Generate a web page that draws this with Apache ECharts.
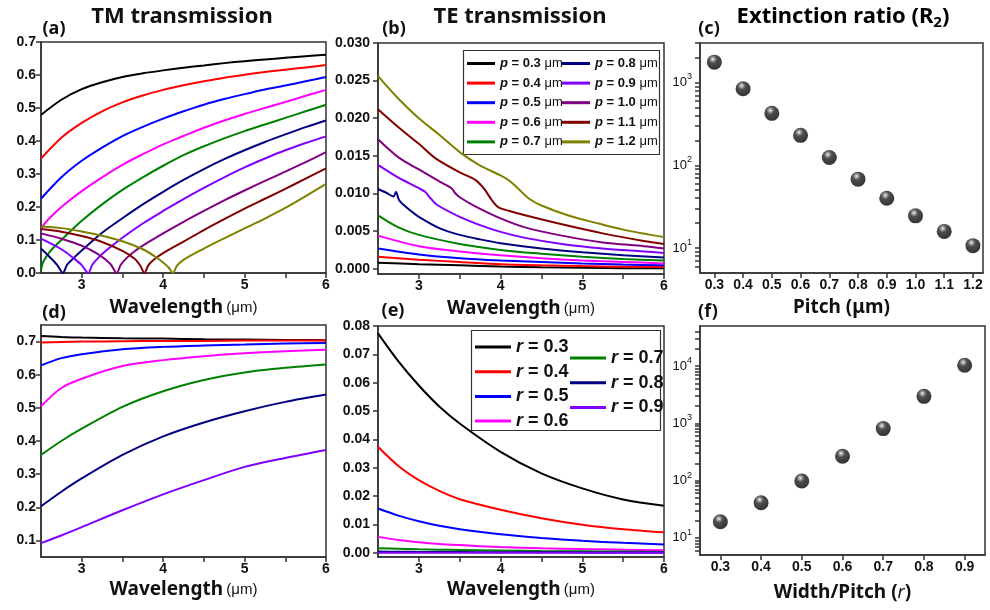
<!DOCTYPE html>
<html><head><meta charset="utf-8">
<script src="https://cdn.jsdelivr.net/npm/echarts@6/dist/echarts.min.js"></script>
<style>html,body{margin:0;padding:0;background:#fff}#c{width:990px;height:610px}</style>
</head><body><div id="c"></div>
<script>
// ---------- DATA ----------
const pitchLabels = ['0.3','0.4','0.5','0.6','0.7','0.8','0.9','1.0','1.1','1.2'];
const pitchVals = [0.3,0.4,0.5,0.6,0.7,0.8,0.9,1.0,1.1,1.2];
const ratioLabels = ['0.3','0.4','0.5','0.6','0.7','0.8','0.9'];
const ratioVals = [0.3,0.4,0.5,0.6,0.7,0.8,0.9];

// (a) TM transmission vs wavelength for each pitch: [wavelength, T]
const tmP03 = [[2.5,0.479],[2.75,0.525],[3,0.557],[3.25,0.578],[3.5,0.594],[3.75,0.605],[4,0.614],[4.25,0.622],[4.5,0.629],[4.75,0.636],[5,0.642],[5.25,0.647],[5.5,0.652],[5.75,0.657],[6,0.661]];
const tmP04 = [[2.5,0.347],[2.75,0.41],[3,0.455],[3.25,0.49],[3.5,0.517],[3.75,0.538],[4,0.555],[4.25,0.569],[4.5,0.581],[4.75,0.592],[5,0.601],[5.25,0.609],[5.5,0.616],[5.75,0.623],[6,0.63]];
const tmP05 = [[2.5,0.225],[2.75,0.29],[3,0.34],[3.25,0.38],[3.5,0.415],[3.75,0.443],[4,0.468],[4.25,0.49],[4.5,0.51],[4.75,0.527],[5,0.542],[5.25,0.556],[5.5,0.568],[5.75,0.581],[6,0.594]];
const tmP06 = [[2.5,0.136],[2.6,0.165],[2.75,0.2],[3,0.248],[3.25,0.29],[3.5,0.328],[3.75,0.36],[4,0.39],[4.25,0.415],[4.5,0.44],[4.75,0.462],[5,0.482],[5.25,0.5],[5.5,0.518],[5.75,0.537],[6,0.555]];
const tmP07 = [[2.5,0.01],[2.53,0.035],[2.6,0.062],[2.75,0.1],[3,0.158],[3.25,0.208],[3.5,0.252],[3.75,0.29],[4,0.325],[4.25,0.357],[4.5,0.384],[4.75,0.408],[5,0.43],[5.25,0.45],[5.5,0.47],[5.75,0.49],[6,0.51]];
const tmP08 = [[2.5,0.074],[2.6,0.05],[2.7,0.024],[2.77,0],[2.82,0.025],[2.9,0.045],[3,0.068],[3.25,0.122],[3.5,0.166],[3.75,0.208],[4,0.246],[4.25,0.282],[4.5,0.315],[4.75,0.345],[5,0.372],[5.25,0.397],[5.5,0.42],[5.75,0.442],[6,0.462]];
const tmP09 = [[2.5,0.104],[2.75,0.072],[2.9,0.045],[3,0.024],[3.08,0],[3.13,0.025],[3.2,0.045],[3.3,0.068],[3.5,0.107],[3.75,0.15],[4,0.188],[4.25,0.224],[4.5,0.258],[4.75,0.29],[5,0.32],[5.25,0.347],[5.5,0.372],[5.75,0.394],[6,0.414]];
const tmP10 = [[2.5,0.12],[2.75,0.104],[3,0.083],[3.2,0.057],[3.35,0.028],[3.43,0],[3.48,0.025],[3.55,0.045],[3.65,0.066],[3.75,0.083],[4,0.12],[4.25,0.155],[4.5,0.188],[4.75,0.22],[5,0.25],[5.25,0.279],[5.5,0.307],[5.75,0.336],[6,0.366]];
const tmP11 = [[2.5,0.133],[2.75,0.125],[3,0.112],[3.25,0.094],[3.5,0.067],[3.65,0.043],[3.72,0.022],[3.77,0],[3.82,0.024],[3.9,0.043],[4,0.06],[4.25,0.095],[4.5,0.13],[4.75,0.163],[5,0.195],[5.25,0.225],[5.5,0.255],[5.75,0.286],[6,0.317]];
const tmP12 = [[2.5,0.141],[2.75,0.136],[3,0.126],[3.25,0.113],[3.5,0.096],[3.75,0.072],[3.9,0.05],[4,0.032],[4.07,0.016],[4.12,0],[4.17,0.022],[4.25,0.04],[4.5,0.074],[4.75,0.105],[5,0.135],[5.25,0.165],[5.5,0.197],[5.75,0.233],[6,0.27]];

// (b) TE transmission vs wavelength for each pitch
const teP03 = [[2.5,0.0008],[3,0.0006],[3.5,0.00045],[4,0.0003],[4.5,0.0002],[5,0.00013],[5.5,0.00008],[6,0.00005]];
const teP04 = [[2.5,0.0016],[3,0.0012],[3.5,0.0009],[4,0.0006],[4.5,0.00045],[5,0.00035],[5.5,0.00028],[6,0.00022]];
const teP05 = [[2.5,0.0027],[3,0.0019],[3.5,0.0014],[4,0.0011],[4.5,0.0009],[5,0.0007],[5.5,0.00055],[6,0.00045]];
const teP06 = [[2.5,0.0044],[3,0.003],[3.5,0.0023],[4,0.0018],[4.5,0.0014],[5,0.0011],[5.5,0.0009],[6,0.0007]];
const teP07 = [[2.5,0.0071],[2.75,0.0055],[3,0.0045],[3.5,0.0033],[4,0.0025],[4.5,0.002],[5,0.0016],[5.5,0.0013],[6,0.0011]];
const teP08 = [[2.5,0.0106],[2.6,0.0101],[2.69,0.0096],[2.72,0.0102],[2.76,0.0091],[2.9,0.0077],[3,0.0069],[3.25,0.0054],[3.5,0.0045],[3.75,0.0039],[4,0.0034],[4.5,0.0027],[5,0.0022],[5.5,0.0018],[6,0.0015]];
const teP09 = [[2.5,0.0138],[2.75,0.0121],[3,0.0107],[3.08,0.0102],[3.14,0.0094],[3.22,0.0085],[3.5,0.0069],[3.75,0.0058],[4,0.0049],[4.3,0.0041],[4.75,0.0033],[5.25,0.0027],[5.75,0.0023],[6,0.0021]];
const teP10 = [[2.5,0.0172],[2.75,0.0148],[3,0.0132],[3.25,0.0116],[3.4,0.0107],[3.44,0.0101],[3.5,0.0095],[3.69,0.0083],[4,0.0067],[4.3,0.0055],[4.75,0.0044],[5.25,0.0035],[5.75,0.003],[6,0.0027]];
const teP11 = [[2.5,0.0212],[2.75,0.0188],[3,0.0166],[3.2,0.0147],[3.5,0.0128],[3.69,0.0118],[3.8,0.0106],[3.9,0.009],[3.97,0.0082],[4.1,0.0077],[4.3,0.0071],[4.75,0.0059],[5.25,0.0047],[5.75,0.0037],[6,0.0033]];
const teP12 = [[2.5,0.0256],[2.75,0.0226],[3,0.02],[3.25,0.0178],[3.5,0.0155],[3.75,0.0137],[4,0.0124],[4.12,0.0116],[4.22,0.0106],[4.35,0.0093],[4.5,0.0084],[4.85,0.007],[5.2,0.006],[5.5,0.0052],[6,0.0042]];

// (d) TM vs wavelength for each width/pitch ratio
const wlD = [2.5,2.75,3,3.5,4,4.5,5,5.5,6];
const tmR03 = [0.717,0.714,0.712,0.710,0.709,0.707,0.706,0.705,0.704];
const tmR04 = [0.697,0.699,0.700,0.701,0.702,0.702,0.703,0.703,0.703];
const tmR05 = [0.628,0.65,0.662,0.677,0.684,0.688,0.691,0.694,0.696];
const tmR06 = [0.505,0.56,0.588,0.626,0.644,0.656,0.665,0.671,0.675];
const tmR07 = [0.358,0.4,0.437,0.503,0.55,0.584,0.607,0.621,0.631];
const tmR08 = [0.203,0.247,0.287,0.358,0.414,0.456,0.49,0.518,0.54];
const tmR09 = [0.092,0.115,0.14,0.191,0.239,0.282,0.322,0.349,0.373];

// (e) TE vs wavelength for each width/pitch ratio
const wlE = [2.5,2.75,3,3.25,3.5,4,4.5,5,5.5,6];
const teR03 = [0.0774,0.0675,0.059,0.0516,0.0456,0.0356,0.028,0.0227,0.0188,0.0166];
const teR04 = [0.0374,0.0306,0.0256,0.0218,0.0189,0.0152,0.0122,0.0099,0.0083,0.0072];
const teR05 = [0.0156,0.0131,0.0111,0.0095,0.0083,0.0065,0.0052,0.0042,0.0035,0.0029];
const teR06 = [0.0056,0.0045,0.0037,0.0031,0.0027,0.002,0.0016,0.0013,0.0011,0.0009];
const teR07 = [0.0016,0.0014,0.0012,0.0011,0.001,0.0008,0.0006,0.0005,0.0004,0.0003];
const teR08 = [0.0004,0.00035,0.0003,0.00027,0.00024,0.0002,0.00016,0.00013,0.0001,0.00008];
const teR09 = [0.00004,0.00004,0.00003,0.00003,0.00003,0.00002,0.00002,0.00002,0.00001,0.00001];

// (c) extinction ratio vs pitch, (f) extinction ratio vs width/pitch
const extPitch = [1760,840,424,230,124,68,40,24.5,15.9,10.7];
const extRatio = [19,41,98,265,807,2950,10300];

// tick labels
const wlTicks = [3,4,5,6];
const wlMinorTicks = [3,3.5,4,4.5,5,5.5,6];
const tmATicks = [0,0.1,0.2,0.3,0.4,0.5,0.6,0.7];
const teBTicks = [0,0.005,0.01,0.015,0.02,0.025,0.03];
const tmDTicks = [0.1,0.2,0.3,0.4,0.5,0.6,0.7];
const teETicks = [0,0.01,0.02,0.03,0.04,0.05,0.06,0.07,0.08];
const logTicksC = [10,100,1000];
const logTicksF = [10,100,1000,10000];
const logMinorC = [6,7,8,9,20,30,40,50,60,70,80,90,200,300,400,500,600,700,800,900,2000,3000];
const logMinorF = [6,7,8,9,20,30,40,50,60,70,80,90,200,300,400,500,600,700,800,900,2000,3000,4000,5000,6000,7000,8000,9000,20000,30000,40000];

const pColors = ['#000000','#ff0000','#0000ff','#ff00ff','#008000','#000080','#8000ff','#800080','#800000','#808000'];
const rColors = ['#000000','#ff0000','#0000ff','#ff00ff','#008000','#000080','#8000ff'];

// ---------- OPTION ----------
const tmP = [tmP03,tmP04,tmP05,tmP06,tmP07,tmP08,tmP09,tmP10,tmP11,tmP12];
const teP = [teP03,teP04,teP05,teP06,teP07,teP08,teP09,teP10,teP11,teP12];
const tmR = [tmR03,tmR04,tmR05,tmR06,tmR07,tmR08,tmR09];
const teR = [teR03,teR04,teR05,teR06,teR07,teR08,teR09];

const AX = '#333';
const TF = 'Liberation Sans';
const HF = 'Noto Sans';

const grids = [
  {left:41, top:42, width:285, height:231},
  {left:378, top:43, width:286, height:231},
  {left:700, top:43, width:283, height:230},
  {left:41, top:325, width:285, height:232},
  {left:378, top:326, width:286, height:231},
  {left:700, top:326, width:285, height:229}
].map(g => Object.assign({show:true, borderColor:AX, borderWidth:1.5, backgroundColor:'transparent', containLabel:false, outerBoundsMode:'none'}, g));

function baseAxis(extra) {
  return Object.assign({
    type:'value',
    axisLine:{show:true, onZero:false, lineStyle:{color:AX, width:1.5}},
    axisTick:{show:true, inside:false, length:5, lineStyle:{color:AX, width:1.5}},
    axisLabel:{color:'#111', fontFamily:TF, fontWeight:'bold', fontSize:14, margin:5},
    splitLine:{show:false}
  }, extra);
}
function withCustom(ax, labels, ticks, fmt, labelExtra) {
  ax.axisLabel = Object.assign({}, ax.axisLabel, {customValues:labels, formatter:fmt}, labelExtra||{});
  ax.axisTick = Object.assign({}, ax.axisTick, {customValues:ticks});
  return ax;
}
const wlName = '{w|Wavelength} {u|(μm)}';
const nameRich = {
  w:{fontFamily:HF, fontWeight:'bold', fontSize:19, color:'#111'},
  u:{fontFamily:TF, fontSize:15, color:'#111'},
  i:{fontFamily:HF, fontWeight:'normal', fontStyle:'italic', fontSize:18, color:'#111'}
};
function wlAxis(gi, gap) {
  const ax = baseAxis({gridIndex:gi, min:2.5, max:6, name:wlName, nameLocation:'middle', nameGap:gap, nameTextStyle:{rich:nameRich}});
  return withCustom(ax, wlTicks, wlMinorTicks, v => String(v));
}
const logRich = {
  b:{fontFamily:TF, fontSize:13, color:'#111', lineHeight:20},
  s:{fontFamily:TF, fontSize:9, color:'#111', lineHeight:9, verticalAlign:'top'}
};
const logFmt = v => '{b|10}{s|' + Math.round(Math.log10(v)) + '}';

const xAxes = [
  wlAxis(0, 25),
  wlAxis(1, 25),
  withCustom(baseAxis({gridIndex:2, min:0.25, max:1.235, name:'{w|Pitch (μm)}', nameLocation:'middle', nameGap:25, nameTextStyle:{rich:nameRich}}), pitchVals, pitchVals, v => v.toFixed(1)),
  wlAxis(3, 23),
  wlAxis(4, 23),
  withCustom(baseAxis({gridIndex:5, min:0.25, max:0.95, name:'{w|Width/Pitch (}{i|r}{w|)}', nameLocation:'middle', nameGap:28, nameTextStyle:{rich:nameRich}}), ratioVals, ratioVals, v => v.toFixed(1))
];
const yAxes = [
  withCustom(baseAxis({gridIndex:0, min:0, max:0.7}), tmATicks, tmATicks, v => v.toFixed(1)),
  withCustom(baseAxis({gridIndex:1, min:-0.0007, max:0.03}), teBTicks, teBTicks, v => v.toFixed(3), {margin:8}),
  withCustom(baseAxis({gridIndex:2, type:'log', logBase:10, min:5, max:3000}), logTicksC, logMinorC.concat(logTicksC), logFmt, {rich:logRich, fontWeight:'normal', margin:8}),
  withCustom(baseAxis({gridIndex:3, min:0.05, max:0.75}), tmDTicks, tmDTicks, v => v.toFixed(1)),
  withCustom(baseAxis({gridIndex:4, min:-0.0015, max:0.08}), teETicks, teETicks, v => v.toFixed(2), {margin:8}),
  withCustom(baseAxis({gridIndex:5, type:'log', logBase:10, min:5, max:50000}), logTicksF, logMinorF.concat(logTicksF), logFmt, {rich:logRich, fontWeight:'normal', margin:8})
];

const pName = i => 'p = ' + pitchLabels[i] + ' μm';
const rName = i => 'r = ' + ratioLabels[i];
const series = [];
function lineSeries(name, color, xi, data) {
  return {type:'line', name, xAxisIndex:xi, yAxisIndex:xi, data, showSymbol:false, symbol:'none',
          smooth:0.3, color, lineStyle:{color, width:2}, itemStyle:{color}, emphasis:{disabled:true}, animation:false};
}
tmP.forEach((d,i) => series.push(lineSeries(pName(i), pColors[i], 0, d)));
teP.forEach((d,i) => series.push(lineSeries(pName(i), pColors[i], 1, d)));
tmR.forEach((d,i) => series.push(lineSeries(rName(i), rColors[i], 3, wlD.map((x,k) => [x, d[k]]))));
teR.forEach((d,i) => series.push(lineSeries(rName(i), rColors[i], 4, wlE.map((x,k) => [x, d[k]]))));

const ball = {type:'radial', x:0.4, y:0.3, r:0.7, colorStops:[
  {offset:0, color:'#ffffff'}, {offset:0.12, color:'#a0a0a0'}, {offset:0.38, color:'#222222'}, {offset:1, color:'#000000'}]};
series.push({type:'scatter', xAxisIndex:2, yAxisIndex:2, data: pitchVals.map((p,i) => [p, extPitch[i]]),
  symbolSize:15, itemStyle:{color:ball}, emphasis:{disabled:true}, animation:false});
series.push({type:'scatter', xAxisIndex:5, yAxisIndex:5, data: ratioVals.map((p,i) => [p, extRatio[i]]),
  symbolSize:15, itemStyle:{color:ball}, emphasis:{disabled:true}, animation:false});

const pLegendRich = {
  i:{fontFamily:TF, fontWeight:'bold', fontStyle:'italic', fontSize:13, lineHeight:15, color:'#111'},
  b:{fontFamily:TF, fontWeight:'bold', fontSize:13, lineHeight:15, color:'#111'},
  u:{fontFamily:TF, fontSize:13, lineHeight:15, color:'#111'}
};
const rLegendRich = {
  i:{fontFamily:TF, fontWeight:'bold', fontStyle:'italic', fontSize:18, lineHeight:20, color:'#111'},
  b:{fontFamily:TF, fontWeight:'bold', fontSize:18, lineHeight:20, color:'#111'}
};
const pFmt = n => '{i|p}{b| = ' + n.slice(4, 7) + ' }{u|μm}';
const rFmt = n => '{i|r}{b| = ' + n.slice(4) + '}';
function legend(names, left, top, rich, fmt, w, gap) {
  return {orient:'vertical', left, top, data:names, icon:'rect', itemWidth:w, itemHeight:3, itemGap:gap,
    selectedMode:false, padding:0, formatter:fmt, textStyle:{rich}, z:10};
}
const legends = [
  legend([0,1,2,3,4].map(pName), 467, 57, pLegendRich, pFmt, 28, 6.6),
  legend([5,6,7,8,9].map(pName), 562, 57, pLegendRich, pFmt, 28, 6.6),
  legend([0,1,2,3].map(rName), 475, 338, rLegendRich, rFmt, 36, 6.7),
  legend([4,5,6].map(rName), 570, 349, rLegendRich, rFmt, 36, 6.7)
];

function txt(x, y, text, font, extra) {
  return {type:'text', x, y, z:20, style:Object.assign({text, font, fill:'#111', textAlign:'center', textVerticalAlign:'middle'}, extra||{})};
}
const titleFont = 'bold 22px "Noto Sans"';
const labelFont = 'bold 18px "Noto Sans"';
const graphics = [
  txt(182, 17, 'TM transmission', titleFont),
  txt(520, 17, 'TE transmission', titleFont),
  {type:'text', x:843, y:4, z:20, style:{text:'{a|Extinction ratio (R}{s|2}{a|)}', textAlign:'center', textVerticalAlign:'top',
    rich:{a:{fontFamily:HF, fontWeight:'bold', fontSize:22, lineHeight:26, color:'#111'},
          s:{fontFamily:HF, fontWeight:'bold', fontSize:15, lineHeight:15, verticalAlign:'bottom', color:'#111'}}}},
  txt(54, 29, '(a)', labelFont),
  txt(394, 29, '(b)', labelFont),
  txt(709, 29, '(c)', labelFont),
  txt(54, 313, '(d)', labelFont),
  txt(393, 311, '(e)', labelFont),
  txt(708, 312, '(f)', labelFont),
  {type:'rect', z:1, shape:{x:463.5, y:50.5, width:196, height:104}, style:{fill:'none', stroke:AX, lineWidth:1.2}},
  {type:'rect', z:1, shape:{x:471.5, y:330.5, width:189, height:100}, style:{fill:'none', stroke:AX, lineWidth:1.2}}
];

const chart = echarts.init(document.getElementById('c'), null, {renderer:'canvas'});
chart.setOption({
  animation:false,
  backgroundColor:'#ffffff',
  grid:grids, xAxis:xAxes, yAxis:yAxes, series, legend:legends, graphic:graphics
});
</script></body></html>
